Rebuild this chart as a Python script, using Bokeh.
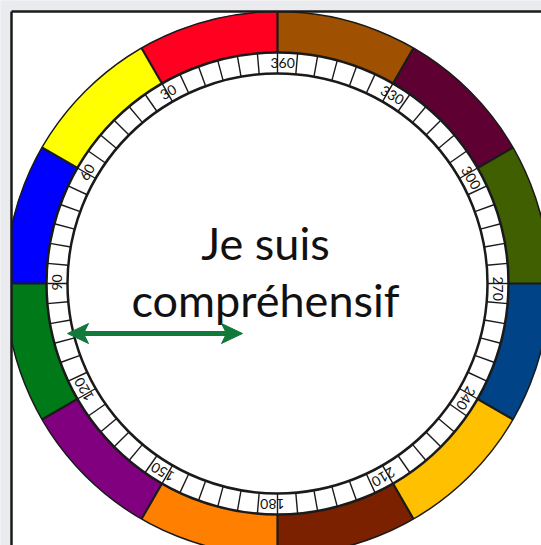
import numpy as np
from bokeh.plotting import figure
from bokeh.models import Range1d
from bokeh.core.properties import value
from bokeh.embed import file_html
from bokeh.resources import INLINE

# ---- data ----
sector_start_deg = [0, 30, 60, 90, 120, 150, 180, 210, 240, 270, 300, 330]
sector_colors = ["#FF0021", "#FFFF00", "#0000FF", "#007A18", "#800080", "#FF8000",
                 "#7B2100", "#FFC000", "#004487", "#3F5F00", "#5F0032", "#9F5000"]
tick_step_deg = 5
label_deg = [30, 60, 90, 120, 150, 180, 210, 240, 270, 300, 330, 360]
label_text = ["30", "60", "90", "120", "150", "180", "210", "240", "270", "300", "330", "360"]
center_lines = ["Je suis", "compréhensif"]
arrow_x = [67, 242]
arrow_y = 333

# ---- geometry (picture pixels) ----
W, H = 541, 545
CX, CY = 277, -283
R_OUT, R_MID, R_IN = 272, 231, 210
LINE = "#1a1a1a"
GREEN = "#117A3B"
BG = "#e9ebee"

p = figure(width=W, height=H, x_range=Range1d(0, W), y_range=Range1d(-H, 0),
           output_backend="svg", toolbar_location=None, min_border=0,
           x_axis_type=None, y_axis_type=None)
p.grid.visible = False
p.outline_line_color = None
p.background_fill_color = BG
p.border_fill_color = BG

# white panel
p.quad(left=11, right=600, top=-11, bottom=-600, fill_color="white", line_color=None)

# colour ring
starts = np.deg2rad([90 + s for s in sector_start_deg])
ends = np.deg2rad([90 + s + 30 for s in sector_start_deg])
p.annular_wedge(x=CX, y=CY, inner_radius=R_MID, outer_radius=R_OUT,
                start_angle=starts, end_angle=ends,
                fill_color=sector_colors, line_color=None)

# tick ring
p.annulus(x=CX, y=CY, inner_radius=R_IN, outer_radius=R_MID, fill_color="white", line_color=None)
tick_deg = np.arange(0, 360, tick_step_deg)
ta = np.deg2rad(90 + tick_deg)
p.segment(x0=CX + R_IN * np.cos(ta), y0=CY + R_IN * np.sin(ta),
          x1=CX + R_MID * np.cos(ta), y1=CY + R_MID * np.sin(ta),
          line_color=LINE, line_width=1.4)

# sector boundaries
p.segment(x0=CX + R_MID * np.cos(starts), y0=CY + R_MID * np.sin(starts),
          x1=CX + R_OUT * np.cos(starts), y1=CY + R_OUT * np.sin(starts),
          line_color=LINE, line_width=2.2)

# circles
p.circle(x=[CX], y=[CY], radius=R_OUT, fill_color=None, line_color=LINE, line_width=1.5)
p.circle(x=[CX], y=[CY], radius=R_MID, fill_color=None, line_color=LINE, line_width=2.5)
p.circle(x=[CX], y=[CY], radius=R_IN, fill_color=None, line_color=LINE, line_width=2.5)

# labels on the tick ring
r_lab = (R_IN + R_MID) / 2
delta = 7.0 / r_lab  # one digit ahead of the line
la = np.deg2rad(90 + np.array(label_deg)) + delta
p.text(x=CX + r_lab * np.cos(la), y=CY + r_lab * np.sin(la), text=label_text,
       angle=np.deg2rad(label_deg), text_align="left", text_baseline="middle",
       text_font=value("Lato"), text_font_size="14px", text_color="#111111")

# cover outside the frame
p.quad(left=0, right=11, top=0, bottom=-600, fill_color=BG, line_color=None)
p.quad(left=0, right=600, top=0, bottom=-11, fill_color=BG, line_color=None)
p.line(x=[11, 11], y=[-600, -11], line_color=LINE, line_width=2.5)
p.line(x=[11, 600], y=[-11, -11], line_color=LINE, line_width=2.5)

# centre text
p.text(x=[265, 265], y=[-242, -299], text=center_lines, text_align="center",
       text_baseline="alphabetic", text_font=value("Lato"), text_font_size="45px",
       text_color="#111111")

# double arrow
L, HH, NOTCH = 21, 10, 16
x0, x1 = arrow_x
ay = -arrow_y
p.quad(left=x0 + NOTCH - 1, right=x1 - NOTCH + 1, top=ay + 2.5, bottom=ay - 2.5,
       fill_color=GREEN, line_color=None)
p.patches(xs=[[x0, x0 + L, x0 + NOTCH, x0 + L], [x1, x1 - L, x1 - NOTCH, x1 - L]],
          ys=[[ay, ay + HH, ay, ay - HH], [ay, ay + HH, ay, ay - HH]],
          fill_color=GREEN, line_color=GREEN, line_width=1)

open("out.html", "w").write(file_html(p, INLINE))
